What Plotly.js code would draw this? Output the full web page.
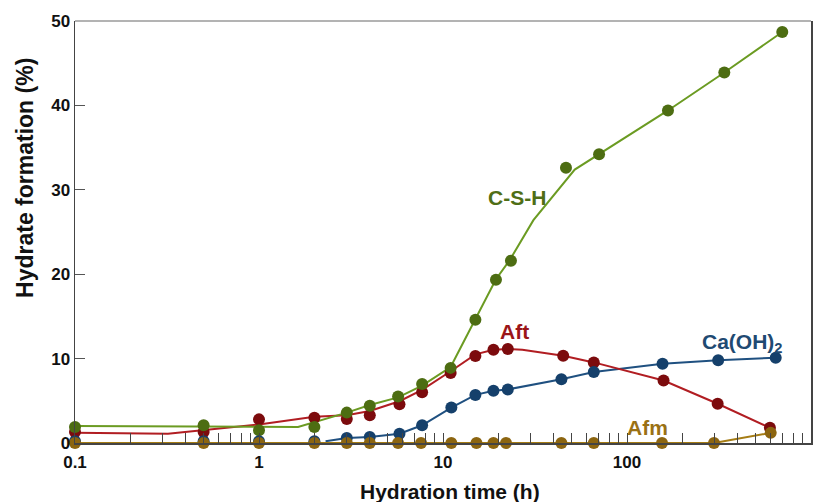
<!DOCTYPE html>
<html>
<head>
<meta charset="utf-8">
<script src="https://cdn.plot.ly/plotly-3.0.1.min.js"></script>
<style>html,body{margin:0;padding:0;background:#fff}#chart{width:827px;height:502px}</style>
</head>
<body>
<div id="chart"></div>
<script>
// ---- data (hours, %) ----
var timeCSH = [0.1, 0.5, 1, 2, 3, 4, 5.7, 7.7, 11, 15, 19.4, 23.4, 46.6, 70.5, 167, 338, 698];
var csh     = [1.9, 2.1, 1.5, 1.9, 3.6, 4.4, 5.5, 7.0, 8.9, 14.6, 19.35, 21.6, 32.6, 34.2, 39.4, 43.9, 48.7];
var cshLineTime = [0.1, 0.5, 1.63, 3, 4, 5.7, 7.7, 11, 15, 19.4, 23.1, 31, 52, 70.5, 167, 338, 698];
var cshLine     = [2.0, 1.95, 1.9, 3.6, 4.5, 5.4, 6.8, 9.0, 14.6, 19.4, 21.7, 26.4, 32.4, 34.2, 39.4, 43.9, 48.7];

var timeAft = [0.1, 0.5, 1, 2, 3, 4, 5.8, 7.7, 11, 15, 18.8, 22.5, 45, 66, 158, 311, 598];
var aft     = [1.3, 1.3, 2.8, 3.0, 2.85, 3.3, 4.6, 6.0, 8.3, 10.3, 11.05, 11.15, 10.35, 9.55, 7.4, 4.65, 1.8];
var aftLineTime = [0.1, 0.32, 1, 2, 3, 4, 5.8, 7.7, 11, 15, 18.8, 22.5, 27, 45, 66, 158, 311, 598];
var aftLine     = [1.2, 1.1, 2.2, 3.1, 3.3, 3.8, 4.95, 6.3, 8.5, 10.5, 11.05, 11.15, 11.05, 10.35, 9.55, 7.4, 4.65, 1.8];

var timeCH = [0.1, 0.5, 1, 2, 3, 4, 5.8, 7.7, 11.1, 15, 18.8, 22.5, 44, 66, 156, 313, 643];
var ch     = [0.2, 0.2, 0.2, 0.2, 0.6, 0.7, 1.1, 2.1, 4.2, 5.7, 6.2, 6.35, 7.55, 8.4, 9.4, 9.8, 10.1];
var chLineTime = [0.1, 0.5, 1, 2, 2.15, 2.3, 3, 4, 5.8, 7.7, 11.1, 15, 18.8, 22.5, 44, 66, 156, 313, 643];
var chLine     = [0, 0, 0, 0, null, 0.2, 0.6, 0.7, 1.1, 2.1, 4.2, 5.7, 6.2, 6.35, 7.55, 8.4, 9.4, 9.8, 10.1];

var timeAfm = [0.1, 0.5, 1, 2, 3, 4, 5.7, 7.6, 11.1, 15.2, 18.8, 22, 44, 66, 155, 297, 604];
var afm     = [0, 0, 0, 0, 0, 0, 0, 0, 0, 0, 0, 0, 0, 0, 0, 0, 1.2];

var xMajorVals = [0.1, 1, 10, 100, 1000];
var xMajorText = ['0.1', '1', '10', '100', '1000'];
var xMinorVals = [0.2,0.3,0.4,0.5,0.6,0.7,0.8,0.9,2,3,4,5,6,7,8,9,20,30,40,50,60,70,80,90,200,300,400,500,600,700,800,900];
var yTickVals = [0, 10, 20, 30, 40, 50];

var labels = ['C-S-H', 'Aft', 'Ca(OH)<sub>2</sub>', 'Afm'];
var xTitle = 'Hydration time (h)';
var yTitle = 'Hydrate formation (%)';

// ---- styles ----
var C = {
  csh: {line: '#6b9b22', mark: '#4d6d12', text: '#4f6e16'},
  aft: {line: '#b11d22', mark: '#7c0b0d', text: '#9b1518'},
  ch:  {line: '#1f5080', mark: '#15406b', text: '#1f4a72'},
  afm: {line: '#a57c14', mark: '#8c6510', text: '#9a7114'}
};
var FONT = 'Liberation Sans, Arial, sans-serif';

function lineTrace(x, y, color) {
  return {x: x, y: y, type: 'scatter', mode: 'lines', line: {color: color, width: 2},
          cliponaxis: false, hoverinfo: 'skip', connectgaps: false};
}
function markTrace(x, y, color) {
  return {x: x, y: y, type: 'scatter', mode: 'markers', marker: {color: color, size: 12},
          cliponaxis: false};
}

var data = [
  lineTrace(chLineTime, chLine, C.ch.line),
  lineTrace(aftLineTime, aftLine, C.aft.line),
  lineTrace(cshLineTime, cshLine, C.csh.line),
  lineTrace(timeAfm, afm, C.afm.line),
  markTrace(timeAft, aft, C.aft.mark),
  markTrace(timeCSH, csh, C.csh.mark),
  markTrace(timeCH, ch, C.ch.mark),
  markTrace(timeAfm, afm, C.afm.mark)
];

var layout = {
  width: 827, height: 502,
  margin: {l: 75, r: 16, t: 21, b: 58.5},
  paper_bgcolor: '#fff', plot_bgcolor: '#fff',
  showlegend: false,
  font: {family: FONT, color: '#111'},
  xaxis: {
    type: 'log', range: [-1, 3],
    tickmode: 'array', tickvals: xMajorVals, ticktext: xMajorText,
    ticks: 'inside', ticklen: 10, tickwidth: 1, tickcolor: '#444',
    minor: {tickmode: 'array', tickvals: xMinorVals, ticks: 'inside', ticklen: 10,
            tickwidth: 1, tickcolor: '#444', showgrid: false},
    showline: true, linecolor: '#444', linewidth: 1.5,
    showgrid: false, zeroline: false,
    tickfont: {family: FONT, size: 17, color: '#111', weight: 'bold'},
    ticklabelstandoff: 3
  },
  yaxis: {
    range: [0, 50],
    tickmode: 'array', tickvals: yTickVals,
    ticks: 'inside', ticklen: 10, tickwidth: 1, tickcolor: '#555',
    showline: true, linecolor: '#444', linewidth: 1.5, mirror: true,
    showgrid: false, zeroline: false,
    tickfont: {family: FONT, size: 17, color: '#111', weight: 'bold'}
  },
  shapes: [
    {type: 'line', xref: 'paper', yref: 'paper', x0: 0, x1: 1, y0: 1, y1: 1,
     line: {color: '#9a9a9a', width: 1.5}}
  ],
  annotations: [
    {text: labels[0], xref: 'x', yref: 'y', x: 1.402, y: 29.05, showarrow: false,
     font: {family: FONT, size: 21, color: C.csh.text, weight: 'bold'}},
    {text: labels[1], xref: 'x', yref: 'y', x: 1.386, y: 13.2, showarrow: false,
     font: {family: FONT, size: 21, color: C.aft.text, weight: 'bold'}},
    {text: labels[2], xref: 'x', yref: 'y', x: 2.630, y: 11.9, showarrow: false,
     font: {family: FONT, size: 21, color: C.ch.text, weight: 'bold'}},
    {text: labels[3], xref: 'x', yref: 'y', x: 2.109, y: 1.8, showarrow: false,
     font: {family: FONT, size: 21, color: C.afm.text, weight: 'bold'}},
    {text: xTitle, xref: 'paper', yref: 'paper', x: 0.5095, y: -0.1148, yanchor: 'middle',
     showarrow: false, font: {family: FONT, size: 21, color: '#111', weight: 'bold'}},
    {text: yTitle, xref: 'paper', yref: 'paper', x: -0.068, y: 0.628, textangle: -90,
     xanchor: 'center', yanchor: 'middle',
     showarrow: false, font: {family: FONT, size: 23, color: '#111', weight: 'bold'}}
  ]
};

Plotly.newPlot('chart', data, layout, {displayModeBar: false, staticPlot: true});
</script>
</body>
</html>
